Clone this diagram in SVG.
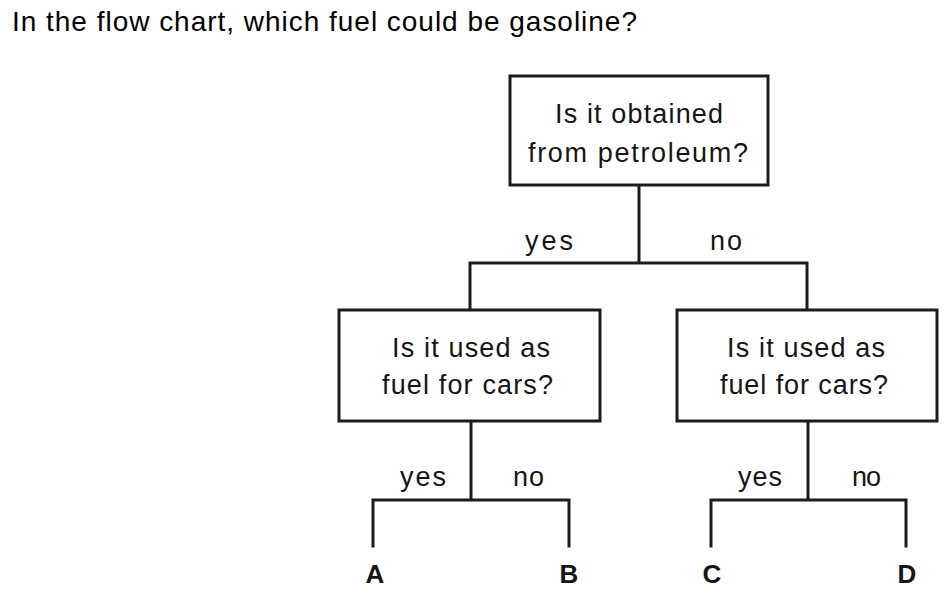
<svg xmlns="http://www.w3.org/2000/svg" width="949" height="598" viewBox="0 0 949 598">
<style>
.bg{fill:#ffffff}
.box{fill:#ffffff;stroke:#1c1c1c;stroke-width:3}
.ln{fill:none;stroke:#1c1c1c;stroke-width:3;stroke-linecap:square}
.t{font-family:"Liberation Sans",Arial,sans-serif;font-size:27px;fill:#151515}
.title{font-family:"Liberation Sans",Arial,sans-serif;font-size:28px;fill:#000}
.lab{font-family:"Liberation Sans",Arial,sans-serif;font-size:26px;font-weight:bold;fill:#151515;text-anchor:middle}
</style>
<rect class="bg" x="0" y="0" width="949" height="598"/>
<text class="title" x="12" y="31" textLength="625" lengthAdjust="spacing">In the flow chart, which fuel could be gasoline?</text>

<g id="connectors">
<path class="ln" d="M639,185 V263 M470,263 H807 M470,263 V310 M807,263 V310"/>
<path class="ln" d="M471,421 V500 M373,500 H569 M373,500 V546 M569,500 V546"/>
<path class="ln" d="M808,421 V500 M711,500 H906 M711,500 V546 M906,500 V546"/>
<text class="t" x="525" y="250" textLength="48" lengthAdjust="spacing">yes</text>
<text class="t" x="710" y="250" textLength="32" lengthAdjust="spacing">no</text>
<text class="t" x="400" y="486" textLength="46" lengthAdjust="spacing">yes</text>
<text class="t" x="513" y="486" textLength="31" lengthAdjust="spacing">no</text>
<text class="t" x="738" y="486" textLength="44" lengthAdjust="spacing">yes</text>
<text class="t" x="852" y="486" textLength="29" lengthAdjust="spacing">no</text>
</g>

<g id="q1">
<rect class="box" x="510" y="76" width="258" height="109"/>
<text class="t" x="555" y="123" textLength="168" lengthAdjust="spacing">Is it obtained</text>
<text class="t" x="528" y="162" textLength="220" lengthAdjust="spacing">from petroleum?</text>
</g>

<g id="q2">
<rect class="box" x="339" y="310" width="261" height="111"/>
<text class="t" x="392" y="357" textLength="158" lengthAdjust="spacing">Is it used as</text>
<text class="t" x="382" y="394" textLength="171" lengthAdjust="spacing">fuel for cars?</text>
</g>

<g id="q3">
<rect class="box" x="677" y="310" width="260" height="111"/>
<text class="t" x="727" y="357" textLength="158" lengthAdjust="spacing">Is it used as</text>
<text class="t" x="720" y="394" textLength="168" lengthAdjust="spacing">fuel for cars?</text>
</g>

<g id="A"><text class="lab" x="375" y="583">A</text></g>
<g id="B"><text class="lab" x="569" y="583">B</text></g>
<g id="C"><text class="lab" x="712" y="583">C</text></g>
<g id="D"><text class="lab" x="907" y="583">D</text></g>
</svg>
